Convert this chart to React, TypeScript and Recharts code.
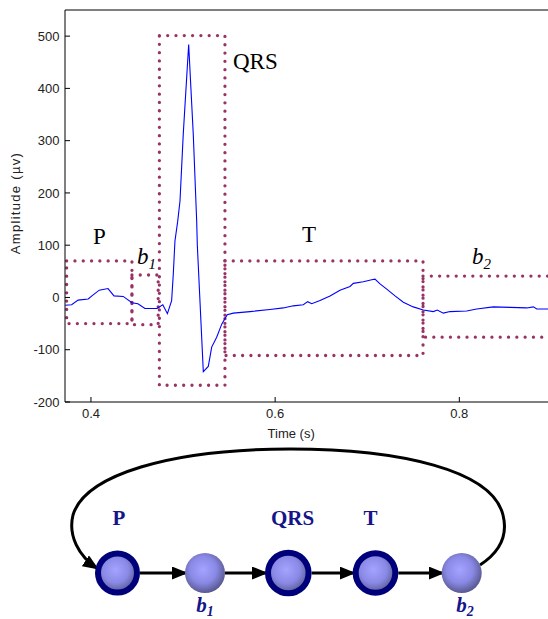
import React from 'react';
import { LineChart, Line, XAxis, YAxis, ReferenceArea } from 'recharts';

// ECG trace (time in s, amplitude in µV)
const times = [
  0.372, 0.379, 0.386, 0.397, 0.401, 0.409, 0.4185, 0.425, 0.435, 0.4445,
  0.451, 0.4586, 0.4717, 0.478, 0.483, 0.4876, 0.4894, 0.4912, 0.4942, 0.4967,
  0.5002, 0.5061, 0.5111, 0.5148, 0.5155, 0.522, 0.5274, 0.5311, 0.5365, 0.542,
  0.548, 0.5545, 0.5727, 0.5944, 0.6089, 0.6197, 0.6306, 0.6353, 0.6397, 0.6487,
  0.6596, 0.6704, 0.6813, 0.6849, 0.6957, 0.7049, 0.7084, 0.7139, 0.7212, 0.7302,
  0.7392, 0.75, 0.7609, 0.7718, 0.7761, 0.7826, 0.7899, 0.808, 0.8189, 0.8369,
  0.8551, 0.8732, 0.8804, 0.8841, 0.9,
];
const amplitudes = [
  -15, -14, -5, -3, 3, 14, 17, 3, 2, -10,
  -12, -21, -21, -14, -31, -6, 45, 108, 146, 185,
  312, 484, 312, 146, 100, -142, -132, -95, -76, -51,
  -33, -30, -27, -23, -20, -16, -14, -8, -12, -6,
  3, 14, 21, 27, 30, 34, 35, 26, 16, 3,
  -9, -18, -24, -27, -24, -30, -27, -26, -22, -18,
  -19, -20, -18, -22, -22,
];

const xTicks = [0.4, 0.6, 0.8];
const yTicks = [-200, -100, 0, 100, 200, 300, 400, 500];

// Segment boxes
const segmentNames = ['P', 'b1', 'QRS', 'T', 'b2'];
const segmentStart = [0.3736, 0.4445, 0.4743, 0.5455, 0.7606];
const segmentEnd = [0.4445, 0.473, 0.5455, 0.7606, 0.9];
const segmentTop = [70, 43, 501, 70, 41];
const segmentBottom = [-50, -52, -168, -111, -76];

// Layout of the segment labels relative to their boxes (px)
const labelLayout: Record<string, { dx: number; dy: number; anchor: 'start' | 'middle' }> = {
  P: { dx: 0, dy: -17, anchor: 'middle' },
  b1: { dx: 5, dy: -11, anchor: 'start' },
  QRS: { dx: 8, dy: 33, anchor: 'start' },
  T: { dx: 77, dy: -19, anchor: 'start' },
  b2: { dx: 49, dy: -12, anchor: 'start' },
};

const data = times.map((t, i) => ({ t, amp: amplitudes[i] }));

const SANS = '"Liberation Sans", Arial, Helvetica, sans-serif';
const SERIF = '"Liberation Serif", "Times New Roman", Times, serif';
const BOX_COLOR = '#993366';

function segmentLabel(name: string) {
  return (props: any) => {
    const vb = props.viewBox || {};
    const L = labelLayout[name];
    const x = L.anchor === 'middle' ? vb.x + vb.width / 2 : vb.x + (name === 'QRS' ? vb.width : 0) + L.dx;
    const y = vb.y + L.dy;
    const isB = name.startsWith('b');
    return (
      <text x={x} y={y} textAnchor={L.anchor} fontFamily={SERIF} fontSize={23} fill="#000">
        {isB ? (
          <>
            <tspan fontStyle="italic">b</tspan>
            <tspan fontStyle="italic" fontSize={15} dy={5}>{name.slice(1)}</tspan>
          </>
        ) : (
          name
        )}
      </text>
    );
  };
}

// Diagram (state chain) layout
const nodeNames = ['P', 'b1', 'QRS', 'T', 'b2'];
const nodeCx = [117.5, 205, 288.3, 375.5, 461.7];
const nodeR = [19.5, 20, 20.3, 19.8, 20];
const nodeRing = [true, false, true, true, false];
const nodeCy = 573;

function NodeLabel({ name, x, y }: { name: string; x: number; y: number }) {
  const isB = name.startsWith('b');
  return (
    <text x={x} y={y} textAnchor="middle" fontFamily={SERIF} fontWeight="bold" fontSize={21} fill="#15158a">
      {isB ? (
        <>
          <tspan fontStyle="italic">b</tspan>
          <tspan fontStyle="italic" fontSize={14} dy={4}>{name.slice(1)}</tspan>
        </>
      ) : (
        name
      )}
    </text>
  );
}

function Diagram() {
  const arrows = nodeCx.slice(0, -1).map((cx, i) => {
    const outA = nodeR[i] + (nodeRing[i] ? 3 : 0);
    const outB = nodeR[i + 1] + (nodeRing[i + 1] ? 3 : 0);
    return { x1: cx + outA, x2: nodeCx[i + 1] - outB + 2 };
  });
  return (
    <svg width={548} height={619} style={{ position: 'absolute', left: 0, top: 0, pointerEvents: 'none' }}>
      <defs>
        <radialGradient id="sphere" cx="45%" cy="42%" r="60%">
          <stop offset="0%" stopColor="#a4a4ff" />
          <stop offset="55%" stopColor="#8a8ae6" />
          <stop offset="100%" stopColor="#55558a" />
        </radialGradient>
        <marker
          id="arrowHead"
          viewBox="0 0 16 13"
          markerWidth={16}
          markerHeight={13}
          refX={15}
          refY={6.5}
          orient="auto"
          markerUnits="userSpaceOnUse"
        >
          <path d="M0,0 L16,6.5 L0,13 Z" fill="#000" />
        </marker>
      </defs>
      <path
        d="M 480 565 C 500 552, 508 535, 503 515 C 492 470, 400 449, 290 449 C 170 449, 85 475, 73 515 C 68 535, 78 556, 98 569"
        fill="none"
        stroke="#000"
        strokeWidth={3}
        markerEnd="url(#arrowHead)"
      />
      {arrows.map((a, i) => (
        <line key={i} x1={a.x1} y1={nodeCy} x2={a.x2} y2={nodeCy} stroke="#000" strokeWidth={3} markerEnd="url(#arrowHead)" />
      ))}
      {nodeCx.map((cx, i) => (
        <circle
          key={nodeNames[i]}
          cx={cx}
          cy={nodeCy}
          r={nodeR[i]}
          fill="url(#sphere)"
          stroke={nodeRing[i] ? '#00007a' : 'none'}
          strokeWidth={nodeRing[i] ? 6 : 0}
        />
      ))}
      <NodeLabel name="P" x={119} y={525} />
      <NodeLabel name="QRS" x={292.5} y={525} />
      <NodeLabel name="T" x={370.5} y={525} />
      <NodeLabel name="b1" x={205} y={612} />
      <NodeLabel name="b2" x={465} y={612} />
    </svg>
  );
}

export default function App() {
  return (
    <div
      style={{
        position: 'absolute',
        left: 0,
        top: 0,
        width: 548,
        height: 619,
        overflow: 'hidden',
        background: '#fff',
      }}
    >
      <LineChart width={560} height={450} data={data} margin={{ top: 9, right: 7.6, left: 0, bottom: 18 }}>
        <XAxis
          xAxisId="b"
          dataKey="t"
          type="number"
          domain={[0.3718, 0.9]}
          allowDataOverflow
          ticks={xTicks}
          tickFormatter={(v: number) => String(v)}
          tickSize={-5}
          tickMargin={12}
          height={30}
          stroke="#000"
          tick={{ fill: '#222', fontSize: 13, fontFamily: SANS }}
          label={(props: any) => {
            const vb = props.viewBox || {};
            return (
              <text x={vb.x + vb.width / 2 - 17} y={438} textAnchor="middle" fontFamily={SANS} fontSize={13} fill="#222">
                Time (s)
              </text>
            );
          }}
        />
        <XAxis
          xAxisId="top"
          dataKey="t"
          type="number"
          orientation="top"
          domain={[0.3718, 0.9]}
          allowDataOverflow
          ticks={xTicks}
          tick={false}
          tickSize={-5}
          height={1}
          stroke="#000"
        />
        <YAxis
          yAxisId="l"
          type="number"
          domain={[-200, 550]}
          allowDataOverflow
          ticks={yTicks}
          tickSize={-5}
          tickMargin={10.5}
          width={65}
          stroke="#000"
          tick={{ fill: '#222', fontSize: 13, fontFamily: SANS }}
          label={() => (
            <text
              x={15}
              y={203}
              transform="rotate(-90 15 203)"
              textAnchor="middle"
              dominantBaseline="central"
              fontFamily={SANS}
              fontSize={13}
              letterSpacing={1.3}
              fill="#222"
            >
              Amplitude (µv)
            </text>
          )}
        />
        <YAxis
          yAxisId="r"
          type="number"
          orientation="right"
          domain={[-200, 550]}
          allowDataOverflow
          ticks={yTicks}
          tick={false}
          tickSize={-5}
          width={1}
          stroke="#000"
        />
        <Line
          xAxisId="top"
          yAxisId="r"
          type="linear"
          dataKey="amp"
          stroke="none"
          dot={false}
          activeDot={false}
          isAnimationActive={false}
        />
        <Line
          xAxisId="b"
          yAxisId="l"
          type="linear"
          dataKey="amp"
          stroke="#0000ff"
          strokeWidth={1.1}
          dot={false}
          isAnimationActive={false}
        />
        {segmentNames.map((name, i) => (
          <ReferenceArea
            key={name}
            xAxisId="b"
            yAxisId="l"
            x1={segmentStart[i]}
            x2={segmentEnd[i]}
            y1={segmentBottom[i]}
            y2={segmentTop[i]}
            fill="none"
            fillOpacity={0}
            stroke={BOX_COLOR}
            strokeWidth={3.3}
            strokeDasharray="0 8.3"
            strokeLinecap="round"
            ifOverflow="visible"
            label={segmentLabel(name)}
          />
        ))}
      </LineChart>
      <Diagram />
    </div>
  );
}
